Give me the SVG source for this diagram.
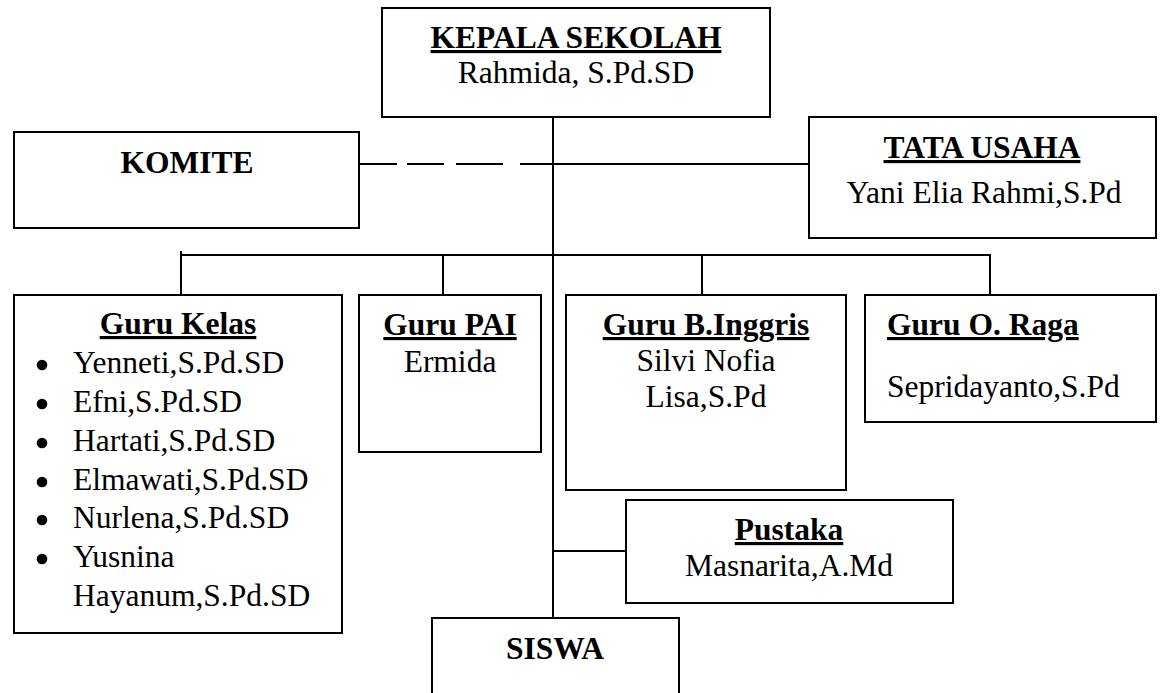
<svg xmlns="http://www.w3.org/2000/svg" width="1162" height="693" viewBox="0 0 1162 693">
<style>
.box{fill:#fff;stroke:#000;stroke-width:2}
.ln{stroke:#000;stroke-width:2;fill:none}
text{font-family:"Liberation Serif","Times New Roman",serif;font-size:31.5px;fill:#000}
.b{font-weight:bold}
.u{text-decoration:underline}
.c{text-anchor:middle}
</style>
<rect width="1162" height="693" fill="#fff"/>
<g id="connectors">
<line class="ln" x1="553" y1="117" x2="553" y2="618"/>
<line class="ln" x1="359" y1="164" x2="397" y2="164"/>
<line class="ln" x1="407" y1="164" x2="444" y2="164"/>
<line class="ln" x1="456" y1="164" x2="503" y2="164"/>
<line class="ln" x1="520" y1="164" x2="553" y2="164"/>
<line class="ln" x1="553" y1="164" x2="809" y2="164"/>
<line class="ln" x1="181" y1="255" x2="991" y2="255"/>
<line class="ln" x1="181" y1="251" x2="181" y2="295"/>
<line class="ln" x1="443" y1="255" x2="443" y2="295"/>
<line class="ln" x1="702" y1="255" x2="702" y2="295"/>
<line class="ln" x1="990" y1="255" x2="990" y2="295"/>
<line class="ln" x1="553" y1="551" x2="626" y2="551"/>
</g>
<g id="kepala">
<rect class="box" x="382" y="8" width="388" height="109"/>
<text class="b u c" x="576" y="48">KEPALA SEKOLAH</text>
<text class="c" x="576" y="83">Rahmida, S.Pd.SD</text>
</g>
<g id="komite">
<rect class="box" x="14" y="132" width="345" height="96"/>
<text class="b c" x="187" y="173">KOMITE</text>
</g>
<g id="tatausaha">
<rect class="box" x="809" y="117" width="347" height="121"/>
<text class="b u c" x="982" y="158">TATA USAHA</text>
<text class="c" x="984" y="203">Yani Elia Rahmi,S.Pd</text>
</g>
<g id="gurukelas">
<rect class="box" x="14" y="295" width="328" height="338"/>
<text class="b u c" x="178" y="334">Guru Kelas</text>
<circle cx="42" cy="365" r="5.3"/>
<circle cx="42" cy="404" r="5.3"/>
<circle cx="42" cy="443" r="5.3"/>
<circle cx="42" cy="482" r="5.3"/>
<circle cx="42" cy="520" r="5.3"/>
<circle cx="42" cy="559" r="5.3"/>
<text x="73" y="373">Yenneti,S.Pd.SD</text>
<text x="73" y="412">Efni,S.Pd.SD</text>
<text x="73" y="451">Hartati,S.Pd.SD</text>
<text x="73" y="490">Elmawati,S.Pd.SD</text>
<text x="73" y="528">Nurlena,S.Pd.SD</text>
<text x="73" y="567">Yusnina</text>
<text x="73" y="606">Hayanum,S.Pd.SD</text>
</g>
<g id="gurupai">
<rect class="box" x="359" y="295" width="182" height="157"/>
<text class="b u c" x="450" y="335">Guru PAI</text>
<text class="c" x="450" y="372">Ermida</text>
</g>
<g id="guruinggris">
<rect class="box" x="566" y="295" width="280" height="195"/>
<text class="b u c" x="706" y="335">Guru B.Inggris</text>
<text class="c" x="706" y="371">Silvi Nofia</text>
<text class="c" x="706" y="407">Lisa,S.Pd</text>
</g>
<g id="guruoraga">
<rect class="box" x="865" y="295" width="291" height="127"/>
<text class="b u" x="887" y="335">Guru O. Raga</text>
<text x="887" y="397">Sepridayanto,S.Pd</text>
</g>
<g id="pustaka">
<rect class="box" x="626" y="500" width="327" height="103"/>
<text class="b u c" x="789" y="540">Pustaka</text>
<text class="c" x="789" y="576">Masnarita,A.Md</text>
</g>
<g id="siswa">
<rect class="box" x="432" y="618" width="247" height="90"/>
<text class="b c" x="555" y="659">SISWA</text>
</g>
</svg>
